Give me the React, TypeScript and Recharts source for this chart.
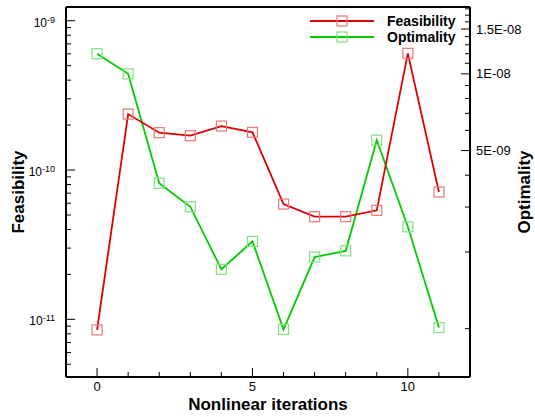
import React from 'react';
import { LineChart, Line, XAxis, YAxis, ReferenceLine } from 'recharts';

const iterations = [0, 1, 2, 3, 4, 5, 6, 7, 8, 9, 10, 11];
const feasibility = [8.5e-12, 2.37e-10, 1.78e-10, 1.7e-10, 1.97e-10, 1.79e-10, 5.92e-11, 4.87e-11, 4.87e-11, 5.37e-11, 6.05e-10, 7.13e-11];
const optimality = [1.2e-8, 1.0e-8, 3.72e-9, 3.01e-9, 1.71e-9, 2.2e-9, 9.93e-10, 1.91e-9, 2.02e-9, 5.49e-9, 2.51e-9, 1.01e-9];

const xTicks = [0, 1, 2, 3, 4, 5, 6, 7, 8, 9, 10, 11];
const xLabelTicks = [0, 5, 10];
const xDomain = [-1, 12];

const leftTicks = [
  5e-12, 6e-12, 7e-12, 8e-12, 9e-12,
  1e-11, 2e-11, 3e-11, 4e-11, 5e-11, 6e-11, 7e-11, 8e-11, 9e-11,
  1e-10, 2e-10, 3e-10, 4e-10, 5e-10, 6e-10, 7e-10, 8e-10, 9e-10,
  1e-9,
];
const leftMajorTicks = [1e-11, 1e-10, 1e-9];
const leftMajorExponents = ['-11', '-10', '-9'];
const leftDomain = [4.11e-12, 1.236e-9];

const rightTicks = [
  1e-9, 2e-9, 3e-9, 4e-9, 5e-9, 6e-9, 7e-9, 8e-9, 9e-9,
  1e-8, 1.1e-8, 1.2e-8, 1.3e-8, 1.4e-8, 1.5e-8, 1.6e-8, 1.7e-8, 1.8e-8,
];
const rightLabelTicks = [5e-9, 1e-8, 1.5e-8];
const rightLabels = ['5E-09', '1E-08', '1.5E-08'];
const rightDomain = [6.46e-10, 1.83e-8];

const seriesNames = ['Feasibility', 'Optimality'];

const data = iterations.map((it, i) => ({
  iter: it,
  feasibility: feasibility[i],
  optimality: optimality[i],
}));

const FONT = '"Liberation Sans", Arial, Helvetica, sans-serif';
const RED = '#dd0000';
const RED_MARK = '#e87878';
const GREEN = '#00cc00';
const GREEN_MARK = '#80e080';

const close = (a: number, b: number) => Math.abs(a - b) / Math.abs(b) < 1e-6;

const LeftTick = (props: any) => {
  const { x, y, payload } = props;
  const v = payload.value as number;
  const idx = leftMajorTicks.findIndex((m) => close(v, m));
  const major = idx >= 0;
  return (
    <g>
      <line x1={x} x2={x + (major ? 9 : 5)} y1={y} y2={y} stroke="#000" strokeWidth={1} />
      {major && (
        <text x={x - 11} y={y + 6} textAnchor="end" fontSize={12} fontFamily={FONT} fill="#000">
          <tspan>10</tspan>
          <tspan dy={-4} fontSize={9}>{leftMajorExponents[idx]}</tspan>
        </text>
      )}
    </g>
  );
};

const RightTick = (props: any) => {
  const { x, y, payload } = props;
  const v = payload.value as number;
  const idx = rightLabelTicks.findIndex((m) => close(v, m));
  const major = idx >= 0;
  return (
    <g>
      <line x1={x} x2={x - (major ? 9 : 5)} y1={y} y2={y} stroke="#000" strokeWidth={1} />
      {major && (
        <text x={x + 6} y={y + 4.5} textAnchor="start" fontSize={13} fontFamily={FONT} fill="#000">
          {rightLabels[idx]}
        </text>
      )}
    </g>
  );
};

const BottomTick = (props: any) => {
  const { x, y, payload } = props;
  const v = payload.value as number;
  const major = xLabelTicks.includes(v);
  return (
    <g>
      <line x1={x} x2={x} y1={y} y2={y - (major ? 9 : 5)} stroke="#000" strokeWidth={1} />
      {major && (
        <text x={x} y={y + 14} textAnchor="middle" fontSize={13} fontFamily={FONT} fill="#000">
          {v}
        </text>
      )}
    </g>
  );
};

const SquareDot = (color: string) => (props: any) => {
  const { cx, cy, index } = props;
  if (cx == null || cy == null) return <g key={index} />;
  return (
    <rect key={index} x={cx - 5} y={cy - 5} width={10} height={10} fill="none" stroke={color} strokeWidth={1.2} />
  );
};

const LeftTitle = (props: any) => (
  <text
    x={24}
    y={192}
    transform="rotate(-90 24 192)"
    textAnchor="middle"
    fontSize={17}
    fontWeight="bold"
    fontFamily={FONT}
    fill="#000"
  >
    Feasibility
  </text>
);

const RightTitle = (props: any) => (
  <text
    x={530}
    y={192}
    transform="rotate(-90 530 192)"
    textAnchor="middle"
    fontSize={17}
    fontWeight="bold"
    fontFamily={FONT}
    fill="#000"
  >
    Optimality
  </text>
);

const BottomTitle = (props: any) => (
  <text x={268} y={409.5} textAnchor="middle" fontSize={17} fontWeight="bold" fontFamily={FONT} fill="#000">
    Nonlinear iterations
  </text>
);

const LegendItem = ({ top, color, mark, label }: { top: number; color: string; mark: string; label: string }) => (
  <div style={{ position: 'absolute', left: 310, top: top - 9, height: 18, display: 'flex', alignItems: 'center' }}>
    <svg width={66} height={18} style={{ display: 'block' }}>
      <line x1={0} x2={64} y1={9} y2={9} stroke={color} strokeWidth={2} />
      <rect x={27} y={4} width={10} height={10} fill="none" stroke={mark} strokeWidth={1.2} />
    </svg>
    <span
      style={{
        marginLeft: 11,
        fontFamily: FONT,
        fontWeight: 'bold',
        fontSize: 14,
        lineHeight: '18px',
        color: '#000',
        whiteSpace: 'nowrap',
      }}
    >
      {label}
    </span>
  </div>
);

export default function App() {
  return (
    <div style={{ position: 'absolute', left: 0, top: 0, width: 535, height: 417, background: '#fff' }}>
      <LineChart width={535} height={417} data={data} margin={{ top: 7, right: 0, bottom: 0, left: 0 }}>
        <XAxis
          dataKey="iter"
          type="number"
          domain={xDomain}
          allowDataOverflow
          ticks={xTicks}
          interval={0}
          height={40}
          tickSize={0}
          tickMargin={0}
          tickLine={false}
          tick={<BottomTick />}
          axisLine={{ stroke: '#000', strokeWidth: 2 }}
          label={<BottomTitle />}
        />
        <YAxis
          yAxisId="left"
          orientation="left"
          type="number"
          scale="log"
          domain={leftDomain}
          allowDataOverflow
          ticks={leftTicks}
          interval={0}
          width={66}
          tickSize={0}
          tickMargin={0}
          tickLine={false}
          tick={<LeftTick />}
          axisLine={{ stroke: '#000', strokeWidth: 2 }}
          label={<LeftTitle />}
        />
        <YAxis
          yAxisId="right"
          orientation="right"
          type="number"
          scale="log"
          domain={rightDomain}
          allowDataOverflow
          ticks={rightTicks}
          interval={0}
          width={65}
          tickSize={0}
          tickMargin={0}
          tickLine={false}
          tick={<RightTick />}
          axisLine={{ stroke: '#000', strokeWidth: 2 }}
          label={<RightTitle />}
        />
        <ReferenceLine yAxisId="left" y={leftDomain[1]} stroke="#000" strokeWidth={2} />
        <Line
          yAxisId="right"
          dataKey="optimality"
          name={seriesNames[1]}
          type="linear"
          stroke={GREEN}
          strokeWidth={1.8}
          dot={SquareDot(GREEN_MARK)}
          activeDot={false}
          isAnimationActive={false}
        />
        <Line
          yAxisId="left"
          dataKey="feasibility"
          name={seriesNames[0]}
          type="linear"
          stroke={RED}
          strokeWidth={1.8}
          dot={SquareDot(RED_MARK)}
          activeDot={false}
          isAnimationActive={false}
        />
      </LineChart>
      <LegendItem top={20.7} color={RED} mark={RED_MARK} label={seriesNames[0]} />
      <LegendItem top={37.3} color={GREEN} mark={GREEN_MARK} label={seriesNames[1]} />
    </div>
  );
}
